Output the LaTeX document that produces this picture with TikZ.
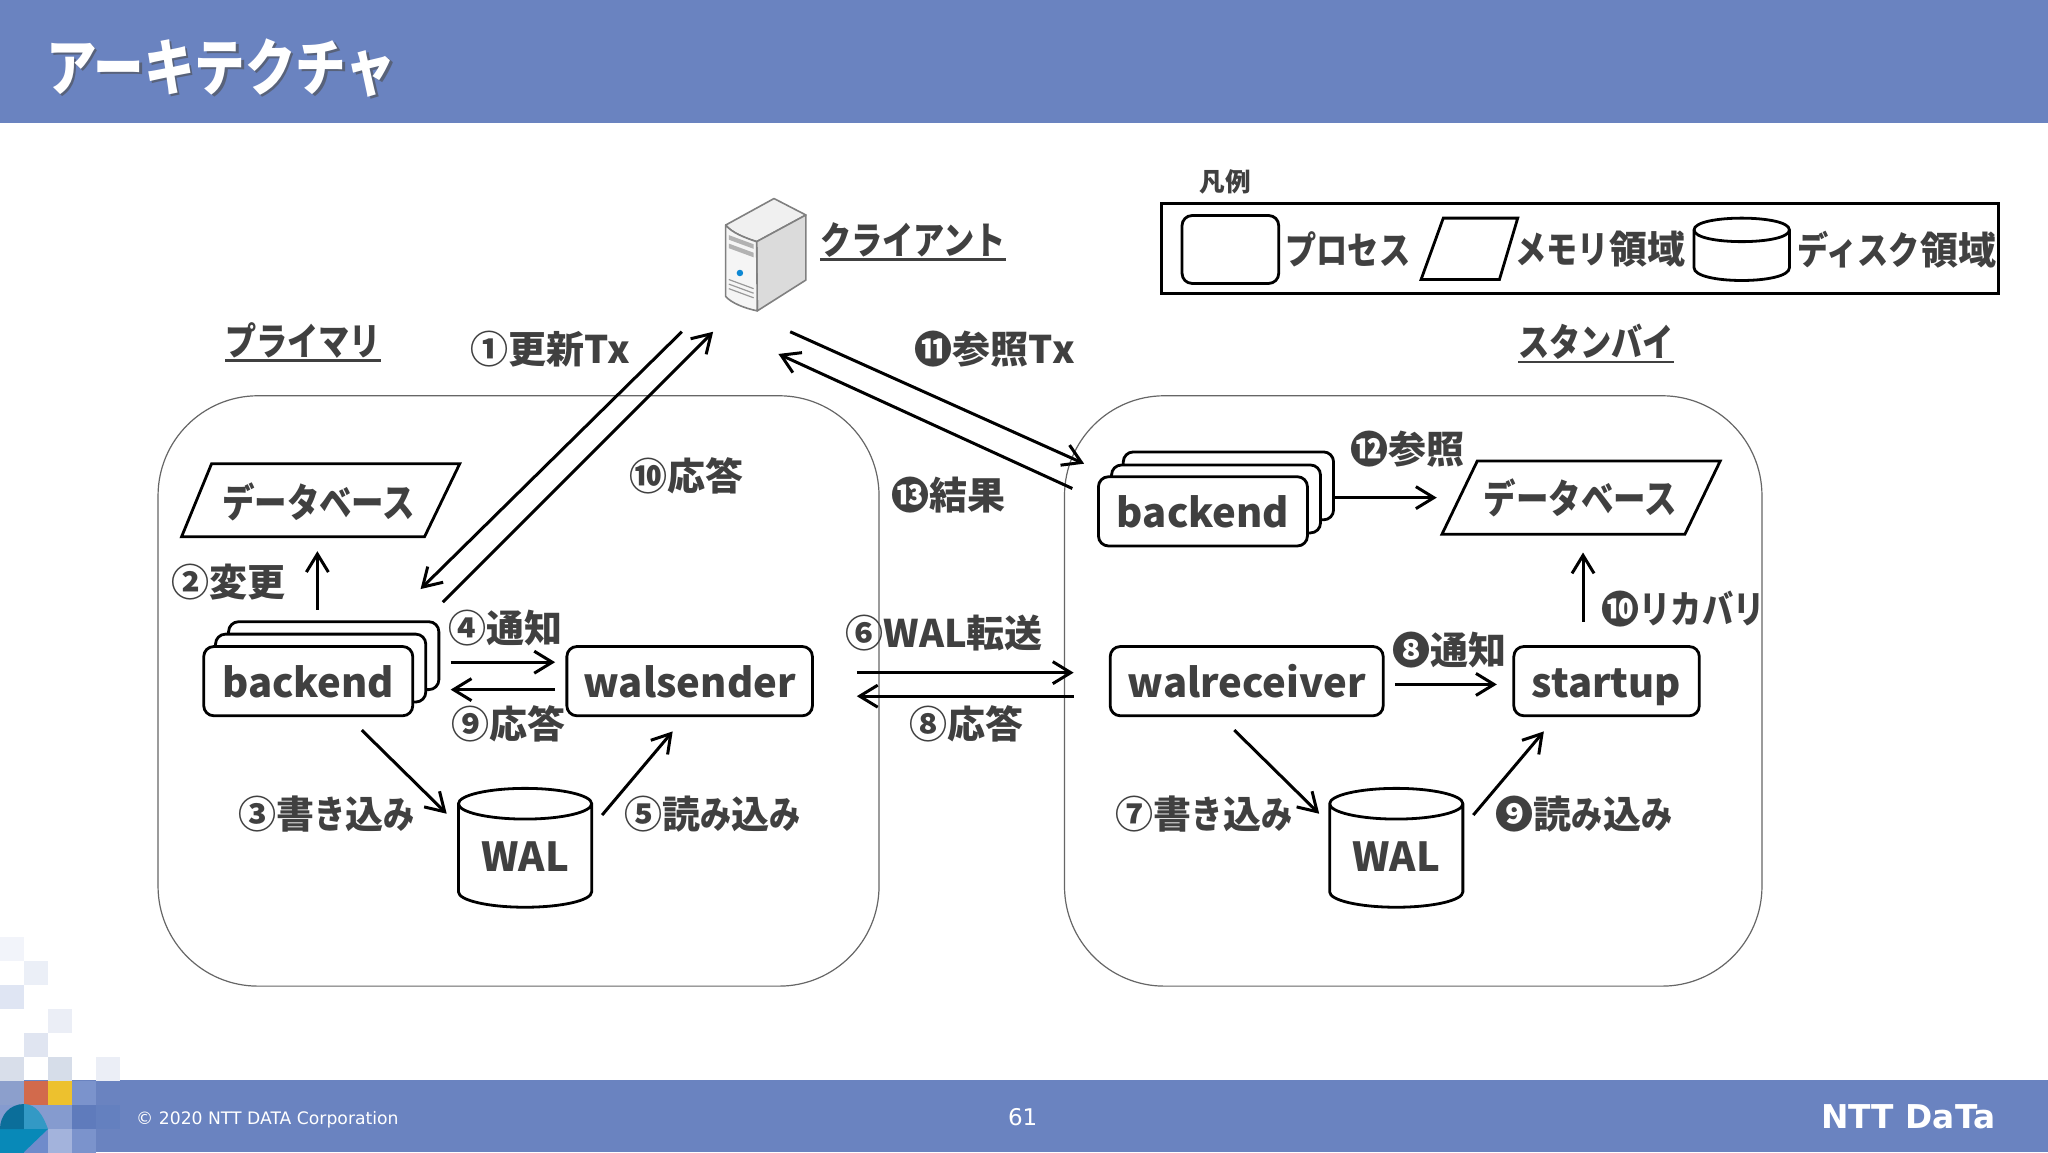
\documentclass[tikz,border=0pt]{standalone}
\usepackage{fontspec}
\usetikzlibrary{shapes.geometric,arrows.meta}
\setmainfont{Noto Sans CJK JP}
\newfontfamily\djv{DejaVu Sans}
\newfontfamily\kanaf{Noto Sans CJK JP}[FakeStretch=0.82]
\definecolor{bar}{HTML}{6A83C0}
\definecolor{ink}{HTML}{404040}
\def\U{0.65306pt}
\newcommand{\ka}[1]{{\kanaf #1}}
\newcommand{\ulin}[1]{\setbox0\hbox{#1}\rlap{\raisebox{-3pt}{\rule{\wd0}{1.1pt}}}\box0}
\tikzset{
 proc/.style={draw=black,fill=white,line width=1.4pt,rounded corners=5pt,inner sep=0pt,outer sep=0pt,text=ink,text height=16.6pt,text depth=0pt,font=\fontsize{20}{22}\selectfont\bfseries},
 mem/.style={draw=black,fill=white,line width=1.4pt},
 disk/.style={cylinder,shape border rotate=90,draw=black,fill=white,line width=1.4pt,aspect=0.35,inner sep=0pt,outer sep=0pt,text=ink,font=\fontsize{20}{22}\selectfont\bfseries},
 lab/.style={text=ink,inner sep=0pt,font=\fontsize{19}{22}\selectfont\bfseries},
 arr/.style={draw=black,line width=1.5pt,-{Straight Barb[length=9pt,width=11pt,line width=1.5pt]}},
 zone/.style={draw=black!60,line width=0.6pt,rounded corners=50pt},
}
\begin{document}
\begin{tikzpicture}[x=\U,y=-\U]
\useasboundingbox (0,0) rectangle (1568,882);
\fill[white] (0,0) rectangle (1568,882);
% bars
\fill[bar] (0,0) rectangle (1568,94);
\fill[bar] (0,827) rectangle (1568,882);
% mosaic
\begin{scope}[x=0.5pt,y=-0.5pt]
\foreach \a/\b/\c in {0/937/F2F4FA,24/961/EBEFF7,0/985/DFE5F3,48/1009/EBEEF6,24/1033/E0E5F1,0/1057/D8DEEA,48/1057/D6DDE9,96/1057/EBEEF6,
  0/1081/8C9FCC,24/1081/D26A4C,48/1081/EDC12E,72/1081/7B93CC,0/1105/859BCF,24/1105/859BCF,48/1105/859BCF,72/1105/5F7BBC,96/1105/6480BF,
  0/1129/0889B8,24/1129/6F8BCB,48/1129/A3B3DC,72/1129/7B93CC}{
  \definecolor{tmpc}{HTML}{\c}
  \fill[tmpc] (\a,\b) rectangle ++(24,24);
}
\definecolor{tealA}{HTML}{0B6E9A}
\definecolor{tealB}{HTML}{3399C5}
\definecolor{tealC}{HTML}{0889B8}
\fill[tealA] (0,1129) .. controls (0,1115) and (10,1104) .. (24,1104) -- (24,1129) -- cycle;
\fill[tealB] (24,1104) .. controls (36,1104) and (43,1115) .. (48,1129) -- (24,1129) -- cycle;
\fill[tealC] (24,1129) -- (48,1129) -- (24,1152) -- cycle;
\end{scope}
% title
\node[anchor=west,inner sep=0pt,text=black!70,opacity=0.6,font=\fontsize{30.8}{34}\selectfont\bfseries\kanaf] (titleshadow) at (37,54) {アーキテクチャ};
\node[anchor=west,inner sep=0pt,text=white,font=\fontsize{30.8}{34}\selectfont\bfseries\kanaf] (title) at (35,52) {アーキテクチャ};
% footer
\node[anchor=west,inner sep=0pt,text=white,font=\djv\fontsize{8.6}{10}\selectfont] (copy) at (104,857) {© 2020 NTT DATA Corporation};
\node[inner sep=0pt,text=white,font=\djv\fontsize{11.5}{13}\selectfont] (page) at (783,855) {61};
\node[anchor=east,inner sep=0pt,text=white,font=\djv\bfseries\fontsize{16.4}{18}\selectfont] (logo) at (1528,855) {NTT DaTa};
% zones
\draw[zone] (121,303) rectangle (673,755);
\draw[zone] (815,303) rectangle (1349,755);
% server icon
\path[fill=gray!12,draw=gray,line width=0.8pt,line join=round]
  (555.6,172.3) -- (592.6,152) -- (617,164.6) -- (579.3,185) .. controls (570,182) and (560,178) .. cycle;
\path[fill=gray!28,draw=gray,line width=0.8pt,line join=round]
  (579.3,185) -- (617,164.6) -- (617,214.4) -- (579.8,238) -- cycle;
\path[fill=gray!8,draw=gray,line width=0.8pt,line join=round]
  (555.6,172.3) .. controls (560,178) and (570,182) .. (579.3,185) -- (579.8,238) .. controls (570,236) and (560,232) .. (555.6,227) -- cycle;
\fill[gray!60] (558,180) -- (577,187) -- (577,190.5) -- (558,183.5) -- cycle;
\fill[gray!60] (558,186.5) -- (577,193.5) -- (577,197) -- (558,190) -- cycle;
\fill[cyan!70!blue] (566.5,209) circle (2.5);
\foreach \d in {0,3.5,7}{\draw[gray!80,line width=0.6pt] (558,214+\d) -- (577,221+\d);}
% legend
\draw[black,line width=1.5pt] (889,156) rectangle (1530,225);
\node[text=ink,inner sep=0pt,font=\fontsize{12.8}{15}\selectfont\bfseries] (lt) at (938,139) {凡例};
\node[proc,minimum width=74*\U,minimum height=52*\U] (lproc) at (942,191) {};
\draw[mem] (1105,167) -- (1162,167) -- (1148,214) -- (1088,214) -- cycle;
\draw[mem] (1297,176) .. controls (1297,164) and (1370,164) .. (1370,176) -- (1370,205) .. controls (1370,218) and (1297,218) .. (1297,205) -- cycle;
\draw[mem,fill=none] (1297,176) .. controls (1297,188) and (1370,188) .. (1370,176);
\node[lab,anchor=west] (l1) at (984,191) {\ka{プロセス}};
\node[lab,anchor=west] (l2) at (1160,191) {\ka{メモリ}領域};
\node[lab,anchor=west] (l3) at (1376,191) {\ka{ディスク}領域};
% headings
\node[lab] (prim) at (232,262) {\ulin{\ka{プライマリ}}};
\node[lab] (stby) at (1222,263) {\ulin{\ka{スタンバイ}}};
\node[lab] (cli) at (699,185) {\ulin{\ka{クライアント}}};
% left side
\draw[mem] (162,355) -- (352,355) -- (325,411) -- (139,411) -- cycle;
\node[lab,font=\fontsize{19.8}{22}\selectfont\bfseries] (db1) at (244,384) {\ka{データベース}};
\node[proc,minimum width=161*\U,minimum height=52*\U] (b1c) at (255.5,502) {};
\node[proc,minimum width=161*\U,minimum height=52*\U] (b1b) at (245.5,511.5) {};
\node[proc,minimum width=160*\U,minimum height=53*\U] (b1a) at (236,521.5) {backend};
\node[proc,minimum width=188*\U,minimum height=53*\U] (ws) at (528,521.5) {walsender};
\node[disk,minimum width=102*\U,minimum height=91*\U] (wal1) at (402,655.5) {\raisebox{-1.5pt}{WAL}};
% right side
\draw[mem] (1131,353) -- (1317,353) -- (1290,409) -- (1104,409) -- cycle;
\node[lab,font=\fontsize{19.8}{22}\selectfont\bfseries] (db2) at (1210,381) {\ka{データベース}};
\node[proc,minimum width=161*\U,minimum height=52*\U] (b2c) at (940.5,372) {};
\node[proc,minimum width=160*\U,minimum height=52*\U] (b2b) at (931,382) {};
\node[proc,minimum width=160*\U,minimum height=53*\U] (b2a) at (921,391.5) {backend};
\node[proc,minimum width=209*\U,minimum height=53*\U] (wr) at (954.5,521.5) {walreceiver};
\node[proc,minimum width=142*\U,minimum height=53*\U] (st) at (1230,521.5) {startup};
\node[disk,minimum width=102*\U,minimum height=91*\U] (wal2) at (1069,655.5) {\raisebox{-1.5pt}{WAL}};
% connector ends
\coordinate (c1a) at (522,254); \coordinate (c1b) at (322,451);
\coordinate (c10a) at (339,461); \coordinate (c10b) at (546,254);
\coordinate (c11a) at (605,254); \coordinate (c11b) at (830,355);
\coordinate (c13a) at (821,374); \coordinate (c13b) at (596,271);
\coordinate (c2a) at (243,467); \coordinate (c2b) at (243,422);
\coordinate (c4a) at (345,507); \coordinate (c4b) at (425,507);
\coordinate (c9a) at (425,528); \coordinate (c9b) at (345,528);
\coordinate (c6a) at (656,515); \coordinate (c6b) at (822,515);
\coordinate (c8a) at (822,533); \coordinate (c8b) at (656,533);
\coordinate (c3a) at (277,559); \coordinate (c3b) at (342,623);
\coordinate (c5a) at (461,624); \coordinate (c5b) at (515,560);
\coordinate (c7a) at (945,559); \coordinate (c7b) at (1010,623);
\coordinate (c9ra) at (1128,624); \coordinate (c9rb) at (1182,560);
\coordinate (c8ra) at (1068,524); \coordinate (c8rb) at (1146,524);
\coordinate (c10ra) at (1212,476); \coordinate (c10rb) at (1212,423);
\coordinate (c12a) at (1022,381); \coordinate (c12b) at (1100,381);
\foreach \p in {c1,c10,c11,c13,c2,c4,c9,c6,c8,c3,c5,c7,c9r,c8r,c10r,c12}{\draw[arr] (\p a) -- (\p b);}
% labels
\node[lab,anchor=west] (t1) at (360,267) {①更新Tx};
\node[lab,anchor=west] (t11) at (700,267) {⓫参照Tx};
\node[lab,anchor=west] (t10) at (482,364) {⑩応答};
\node[lab,anchor=west] (t13) at (682,379) {⓭結果};
\node[lab,anchor=west] (t12) at (1034,344) {⓬参照};
\node[lab,anchor=west] (t2) at (131,446) {②変更};
\node[lab,anchor=west] (t4) at (343,481) {④通知};
\node[lab,anchor=west] (t9) at (345,554) {⑨応答};
\node[lab,anchor=west] (t6) at (647,485) {⑥WAL転送};
\node[lab,anchor=west] (t8) at (696,554) {⑧応答};
\node[lab,anchor=west] (t8r) at (1066,498) {❽通知};
\node[lab,anchor=west] (t10r) at (1226,466) {❿\ka{リカバリ}};
\node[lab,anchor=west] (t3) at (182,623) {③書\ka{き}込\ka{み}};
\node[lab,anchor=west] (t5) at (478,623) {⑤読\ka{み}込\ka{み}};
\node[lab,anchor=west] (t7) at (854,623) {⑦書\ka{き}込\ka{み}};
\node[lab,anchor=west] (t9r) at (1145,623) {❾読\ka{み}込\ka{み}};
\end{tikzpicture}
\end{document}
